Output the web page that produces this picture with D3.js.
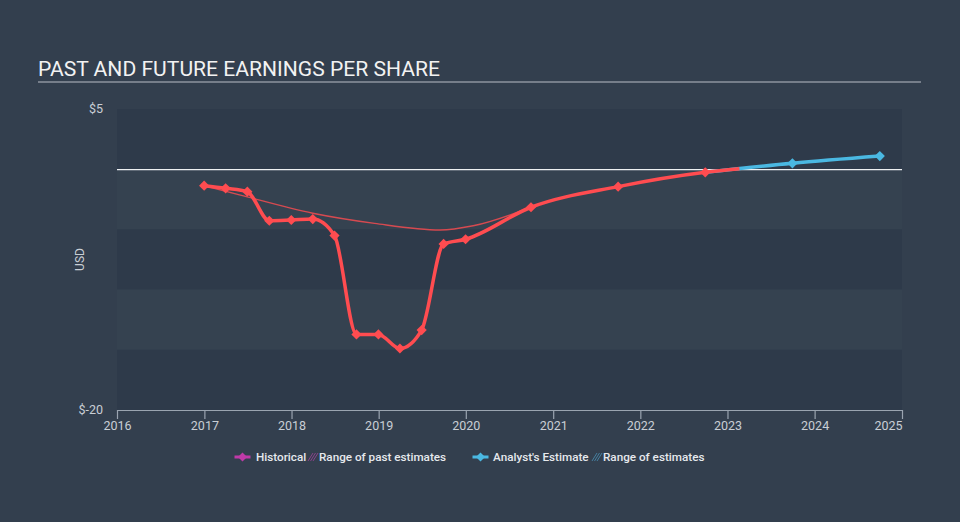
<!DOCTYPE html>
<html>
<head>
<meta charset="utf-8">
<script src="https://cdn.jsdelivr.net/npm/d3@7"></script>
<style>
  html, body { margin: 0; padding: 0; background: #333f4e; }
  svg { display: block; }
  text { font-family: Roboto, "Noto Sans", sans-serif; }
</style>
</head>
<body>
<svg id="chart" width="960" height="522"></svg>
<script>
// ---- Data ----
const histDates = ["2016-12-31","2017-03-31","2017-06-30","2017-09-30","2017-12-31","2018-03-31","2018-06-30","2018-09-30","2018-12-31","2019-03-31","2019-06-30","2019-09-30","2019-12-31","2020-09-30","2021-09-30","2022-09-30"];
const histValues = [-1.37,-1.59,-1.87,-4.28,-4.22,-4.14,-5.51,-13.72,-13.72,-14.89,-13.36,-6.21,-5.82,-3.16,-1.45,-0.26];
const histTailDate = "2023-02-20";
const histTailValue = 0.04;
const pastEstDates = ["2016-12-31","2017-06-01","2018-03-31","2018-12-15","2019-09-15","2020-02-01","2020-09-30"];
const pastEstValues = [-1.37,-2.15,-3.66,-4.5,-5.05,-4.7,-3.16];
const fcDates = ["2022-09-30","2023-09-30","2024-09-30"];
const fcValues = [-0.26,0.49,1.09];
const xTickYears = [2016,2017,2018,2019,2020,2021,2022,2023,2024,2025];
const yTickValues = [5,-20];
const yTickLabels = ["$5","$-20"];
const bandEdges = [5,0,-5,-10,-15,-20];
const titleText = "PAST AND FUTURE EARNINGS PER SHARE";
const yAxisTitle = "USD";
const legendLabels = ["Historical","Range of past estimates","Analyst's Estimate","Range of estimates"];

// ---- Setup ----
(function () {
const parse = d3.timeParse("%Y-%m-%d");
const svg = d3.select("#chart");
const W = 960, H = 522;
const pLeft = 117, pRight = 902, pTop = 109, pBottom = 410;

const x = d3.scaleTime().domain([new Date(2016,0,1), new Date(2025,0,1)]).range([pLeft, pRight]);
const y = d3.scaleLinear().domain([-20, 5]).range([pBottom, pTop]);

svg.append("rect").attr("width", W).attr("height", H).attr("fill", "#333f4e");

// Title
svg.append("text").attr("x", 38).attr("y", 76)
  .attr("font-size", 21.1).attr("fill", "#f2f2f2").text(titleText);
svg.append("line").attr("x1", 38).attr("x2", 921).attr("y1", 82).attr("y2", 82)
  .attr("stroke", "#b9bec6").attr("stroke-width", 1.2);

// Bands
const bands = d3.pairs(bandEdges);
svg.append("g").selectAll("rect").data(bands).join("rect")
  .attr("x", pLeft).attr("width", pRight - pLeft)
  .attr("y", d => y(d[0])).attr("height", d => y(d[1]) - y(d[0]))
  .attr("fill", (d, i) => i % 2 === 0 ? "#2e3a4a" : "#354250");

// Zero line
svg.append("line").attr("x1", pLeft).attr("x2", pRight)
  .attr("y1", y(0) + 0.5).attr("y2", y(0) + 0.5)
  .attr("stroke", "#eef0f2").attr("stroke-width", 1.2);

// X axis
const xAxis = d3.axisBottom(x)
  .tickValues(xTickYears.map(yr => new Date(yr, 0, 1)))
  .tickFormat(d3.timeFormat("%Y"))
  .tickSize(9).tickSizeOuter(0);
const gx = svg.append("g").attr("transform", `translate(0,${pBottom})`).call(xAxis);
gx.select(".domain").attr("stroke", "#9aa4b0").attr("stroke-width", 1.2);
gx.selectAll(".tick line").attr("stroke", "#9aa4b0").attr("stroke-width", 1.2);
gx.selectAll(".tick text").attr("fill", "#c9ced5").attr("font-size", 12.5)
  .attr("font-family", "Roboto, sans-serif").attr("dy", "0.35em").attr("y", 16);
gx.selectAll(".tick").filter((d, i, n) => i === n.length - 1).select("text")
  .attr("text-anchor", "end").attr("x", 0);

// Y labels
svg.append("g").selectAll("text").data(yTickValues).join("text")
  .attr("x", 103).attr("y", d => y(d)).attr("dy", "0.35em")
  .attr("text-anchor", "end").attr("font-size", 12.5).attr("fill", "#c9ced5")
  .text((d, i) => yTickLabels[i]);
svg.append("text").attr("transform", `translate(84,${(pTop + pBottom) / 2}) rotate(-90)`)
  .attr("text-anchor", "middle").attr("font-size", 12).attr("fill", "#c9ced5")
  .text(yAxisTitle);

// Lines
const line = d3.line().x(d => x(d.date)).y(d => y(d.value)).curve(d3.curveMonotoneX);
const hist = histDates.map((d, i) => ({date: parse(d), value: histValues[i]}));
const histLine = hist.concat([{date: parse(histTailDate), value: histTailValue}]);
const past = pastEstDates.map((d, i) => ({date: parse(d), value: pastEstValues[i]}));
const fc = fcDates.map((d, i) => ({date: parse(d), value: fcValues[i]}));

const red = "#ff4c50", blue = "#4ab8e2";

svg.append("path").datum(past).attr("d", line)
  .attr("fill", "none").attr("stroke", red).attr("stroke-width", 1.4).attr("opacity", 0.8);

svg.append("path").datum(fc).attr("d", line)
  .attr("fill", "none").attr("stroke", blue).attr("stroke-width", 3.5);
svg.append("path").datum(histLine).attr("d", line)
  .attr("fill", "none").attr("stroke", red).attr("stroke-width", 3.5);

const diamond = d3.symbol().type(d3.symbolSquare).size(52);
svg.append("g").selectAll("path").data(fc.slice(1)).join("path")
  .attr("d", diamond)
  .attr("transform", d => `translate(${x(d.date)},${y(d.value)}) rotate(45)`)
  .attr("fill", blue);
svg.append("g").selectAll("path").data(hist).join("path")
  .attr("d", diamond)
  .attr("transform", d => `translate(${x(d.date)},${y(d.value)}) rotate(45)`)
  .attr("fill", red);

// Legend
const lg = svg.append("g").attr("font-size", 11.7).attr("font-weight", 500).attr("fill", "#e6e9ed");
const ly = 457;
function legendMarker(cx, color) {
  lg.append("line").attr("x1", cx - 8).attr("x2", cx + 8).attr("y1", ly).attr("y2", ly)
    .attr("stroke", color).attr("stroke-width", 3);
  lg.append("path").attr("d", d3.symbol().type(d3.symbolSquare).size(40))
    .attr("transform", `translate(${cx},${ly}) rotate(45)`).attr("fill", color);
}
function hatch(x0, color) {
  for (let k = 0; k < 3; k++) {
    lg.append("line").attr("x1", x0 + k * 2.5).attr("y1", ly + 4)
      .attr("x2", x0 + k * 2.5 + 5).attr("y2", ly - 4)
      .attr("stroke", color).attr("stroke-width", 1).attr("opacity", 0.8);
  }
}
legendMarker(242.5, "#bf3aa8");
lg.append("text").attr("x", 256).attr("y", ly).attr("dy", "0.35em").text(legendLabels[0]);
hatch(308, "#a0449a");
lg.append("text").attr("x", 319).attr("y", ly).attr("dy", "0.35em").text(legendLabels[1]);
legendMarker(480.5, blue);
lg.append("text").attr("x", 493).attr("y", ly).attr("dy", "0.35em").text(legendLabels[2]);
hatch(592, "#4a8fb5");
lg.append("text").attr("x", 603).attr("y", ly).attr("dy", "0.35em").text(legendLabels[3]);
})();
</script>
</body>
</html>
